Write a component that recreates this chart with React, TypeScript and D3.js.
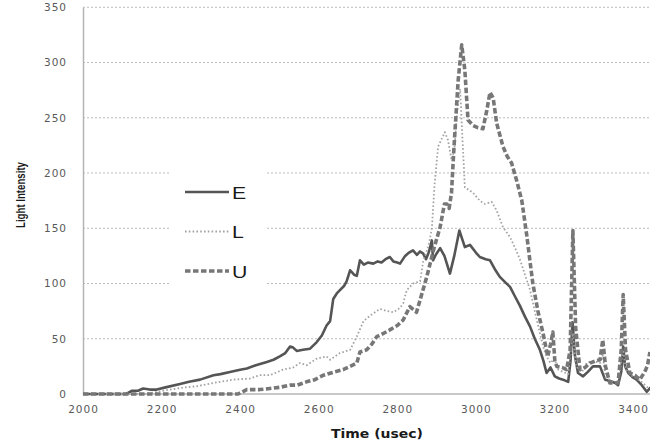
import React, { useRef, useEffect } from "react";
import * as d3 from "d3";

// time (usec), light intensity
const seriesE: [number, number][] = [
  [2000, 0], [2110, 0], [2125, 3], [2140, 3], [2153, 5], [2170, 4], [2188, 4], [2210, 6],
  [2247, 9], [2270, 11], [2298, 13], [2332, 17], [2350, 18], [2374, 20], [2400, 22], [2417, 23],
  [2440, 26], [2468, 29], [2485, 31], [2501, 34], [2515, 37], [2527, 43], [2535, 42], [2544, 39],
  [2560, 40], [2578, 41], [2595, 47], [2608, 53], [2620, 62], [2629, 66], [2637, 86], [2646, 91],
  [2654, 94], [2665, 98], [2671, 102], [2680, 112], [2690, 108], [2697, 107], [2705, 121], [2715, 117],
  [2725, 119], [2739, 118], [2750, 120], [2760, 119], [2770, 122], [2781, 124], [2790, 120], [2800, 119],
  [2807, 118], [2820, 125], [2830, 128], [2840, 130], [2850, 126], [2858, 129], [2866, 127], [2873, 122],
  [2880, 128], [2888, 139], [2891, 121], [2898, 126], [2909, 132], [2920, 125], [2934, 109], [2945, 125],
  [2958, 148], [2972, 133], [2985, 135], [3000, 128], [3010, 124], [3025, 122], [3036, 121], [3050, 112],
  [3061, 106], [3075, 101], [3087, 97], [3100, 88], [3112, 80], [3125, 70], [3138, 61], [3150, 50],
  [3163, 40], [3172, 30], [3180, 19], [3190, 24], [3201, 16], [3212, 14], [3222, 13], [3235, 11],
  [3241, 30], [3246, 65], [3252, 35], [3260, 19], [3273, 16], [3285, 20], [3298, 25], [3316, 25],
  [3329, 13], [3340, 12], [3355, 10], [3362, 8], [3370, 20], [3375, 43], [3380, 25], [3388, 19],
  [3400, 15], [3409, 13], [3420, 9], [3435, 2], [3445, 6],
];

const seriesL: [number, number][] = [
  [2000, 0], [2160, 0], [2190, 2], [2221, 4], [2260, 6], [2289, 7], [2332, 10], [2383, 13],
  [2425, 14], [2450, 17], [2476, 17], [2509, 22], [2535, 24], [2552, 28], [2569, 26], [2595, 32],
  [2620, 34], [2629, 31], [2654, 37], [2680, 40], [2697, 52], [2714, 66], [2731, 71], [2756, 77],
  [2775, 75], [2790, 74], [2807, 78], [2815, 82], [2824, 94], [2840, 100], [2858, 102], [2866, 120],
  [2880, 135], [2888, 150], [2895, 190], [2904, 224], [2912, 230], [2921, 237], [2929, 230], [2938, 212],
  [2945, 220], [2952, 255], [2960, 276], [2966, 230], [2972, 187], [2985, 184], [2993, 182], [3010, 175],
  [3023, 172], [3040, 174], [3053, 166], [3069, 151], [3087, 142], [3100, 132], [3112, 122], [3125, 108],
  [3138, 94], [3150, 75], [3163, 55], [3172, 42], [3180, 34], [3190, 28], [3200, 32], [3210, 22],
  [3222, 20], [3235, 18], [3247, 55], [3255, 25], [3270, 20], [3282, 28], [3300, 30], [3316, 28],
  [3323, 35], [3330, 15], [3345, 12], [3362, 10], [3375, 40], [3382, 22], [3395, 17], [3410, 14],
  [3425, 10], [3440, 5],
];

const seriesU: [number, number][] = [
  [2000, 0], [2395, 0], [2417, 4], [2450, 4], [2476, 5], [2500, 6], [2527, 8], [2545, 8],
  [2569, 11], [2590, 13], [2612, 17], [2640, 20], [2662, 22], [2680, 25], [2697, 28], [2705, 38],
  [2722, 40], [2735, 45], [2748, 52], [2760, 54], [2781, 58], [2800, 62], [2815, 67], [2832, 79],
  [2849, 74], [2862, 90], [2875, 106], [2892, 130], [2909, 151], [2920, 172], [2926, 172], [2932, 168],
  [2938, 182], [2943, 215], [2947, 239], [2955, 284], [2964, 316], [2972, 293], [2980, 248], [2993, 243],
  [3005, 241], [3018, 240], [3028, 257], [3036, 273], [3044, 268], [3053, 245], [3069, 224], [3080, 215],
  [3091, 209], [3104, 193], [3117, 175], [3129, 145], [3145, 100], [3158, 75], [3171, 55], [3183, 34],
  [3190, 45], [3196, 56], [3201, 30], [3206, 25], [3220, 24], [3231, 22], [3240, 40], [3247, 148],
  [3254, 60], [3265, 22], [3278, 24], [3290, 28], [3305, 30], [3316, 31], [3323, 49], [3330, 25],
  [3341, 10], [3362, 10], [3370, 40], [3375, 90], [3381, 40], [3392, 19], [3405, 17], [3417, 13],
  [3430, 20], [3437, 26], [3443, 38],
];

const legendNames = ["E", "L", "U"];
const xTicks = [2000, 2200, 2400, 2600, 2800, 3000, 3200, 3400];
const yTicks = [0, 50, 100, 150, 200, 250, 300, 350];

const styles = [
  { stroke: "#555555", width: 2.6, dash: null as string | null },
  { stroke: "#a3a3a3", width: 1.8, dash: "1.6,2.2" },
  { stroke: "#777777", width: 3.6, dash: "5.5,2.5" },
];

const App = () => {
  const ref = useRef<SVGSVGElement | null>(null);

  const drawChart = () => {
    const W = 650, H = 447;
    const svg = d3.select(ref.current).attr("width", W).attr("height", H);
    svg.selectAll("*").remove();

    const x = d3.scaleLinear().domain([2000, 3400]).range([83, 633]);
    const y = d3.scaleLinear().domain([0, 350]).range([394, 7.3]);

    svg.append("defs").append("clipPath").attr("id", "plot")
      .append("rect").attr("x", 83).attr("y", 0).attr("width", W - 83).attr("height", 396);

    // gridlines
    svg.append("g").selectAll("line").data(yTicks.filter(d => d > 0)).join("line")
      .attr("x1", 83).attr("x2", W)
      .attr("y1", d => y(d)).attr("y2", d => y(d))
      .attr("stroke", "#bdbdbd").attr("stroke-width", 1).attr("stroke-dasharray", "2,2");

    // axes
    const yAxis = svg.append("g").attr("transform", "translate(83,0)")
      .call(d3.axisLeft(y).tickValues(yTicks).tickSize(0).tickPadding(16));
    const xAxis = svg.append("g").attr("transform", "translate(0,394)")
      .call(d3.axisBottom(x).tickValues(xTicks).tickSize(0).tickPadding(12).tickFormat(d3.format("d")));
    [yAxis, xAxis].forEach(g => {
      g.select(".domain").attr("stroke", "#b5b5b5").attr("stroke-width", 1.5);
      g.selectAll("text")
        .attr("fill", "#595959")
        .style("font-family", "'DejaVu Sans', Verdana, sans-serif")
        .style("font-size", "10.5px")
        .style("letter-spacing", "1px");
    });
    xAxis.select(".domain").attr("d", `M83,0H${W}`);

    // legend box (white background over gridlines)
    svg.append("rect").attr("x", 170).attr("y", 165).attr("width", 97).attr("height", 127).attr("fill", "#fff");

    const line = d3.line<[number, number]>()
      .x(d => x(d[0]))
      .y(d => y(d[1]))
      .curve(d3.curveLinear);

    const plot = svg.append("g").attr("clip-path", "url(#plot)");
    [seriesE, seriesL, seriesU].forEach((s, i) => {
      plot.append("path")
        .datum(s)
        .attr("d", line)
        .attr("fill", "none")
        .attr("stroke", styles[i].stroke)
        .attr("stroke-width", styles[i].width)
        .attr("stroke-dasharray", styles[i].dash)
        .attr("stroke-linejoin", "round");
    });

    // legend
    const leg = svg.append("g");
    legendNames.forEach((name, i) => {
      const ly = 192 + i * 39.5;
      leg.append("line")
        .attr("x1", 185).attr("x2", 229).attr("y1", ly).attr("y2", ly)
        .attr("stroke", styles[i].stroke)
        .attr("stroke-width", styles[i].width)
        .attr("stroke-dasharray", styles[i].dash);
      leg.append("text")
        .attr("transform", `translate(232,${ly + 6.5}) scale(1.25,1)`)
        .attr("fill", "#1a1a1a")
        .style("font-family", "'Liberation Sans', Arial, sans-serif")
        .style("font-size", "17px")
        .text(name);
    });

    // axis titles
    svg.append("text")
      .attr("x", 377).attr("y", 438)
      .attr("text-anchor", "middle")
      .attr("textLength", 92).attr("lengthAdjust", "spacingAndGlyphs")
      .attr("fill", "#1a1a1a")
      .style("font-family", "'DejaVu Sans', Verdana, sans-serif")
      .style("font-weight", "bold")
      .style("font-size", "11.5px")
      .text("Time (usec)");

    svg.append("text")
      .attr("transform", "translate(25,195) rotate(-90)")
      .attr("text-anchor", "middle")
      .attr("textLength", 66).attr("lengthAdjust", "spacingAndGlyphs")
      .attr("fill", "#1a1a1a")
      .style("font-family", "'Liberation Sans Narrow', 'Liberation Sans', sans-serif")
      .style("font-weight", "bold")
      .style("font-size", "13px")
      .text("Light Intensity");
  };

  useEffect(() => {
    if (ref.current) drawChart();
  }, []);

  return (
    <div style={{ position: "absolute", left: 0, top: 0, width: 650, height: 447, background: "#fff" }}>
      <svg ref={ref} />
    </div>
  );
};

export default App;
